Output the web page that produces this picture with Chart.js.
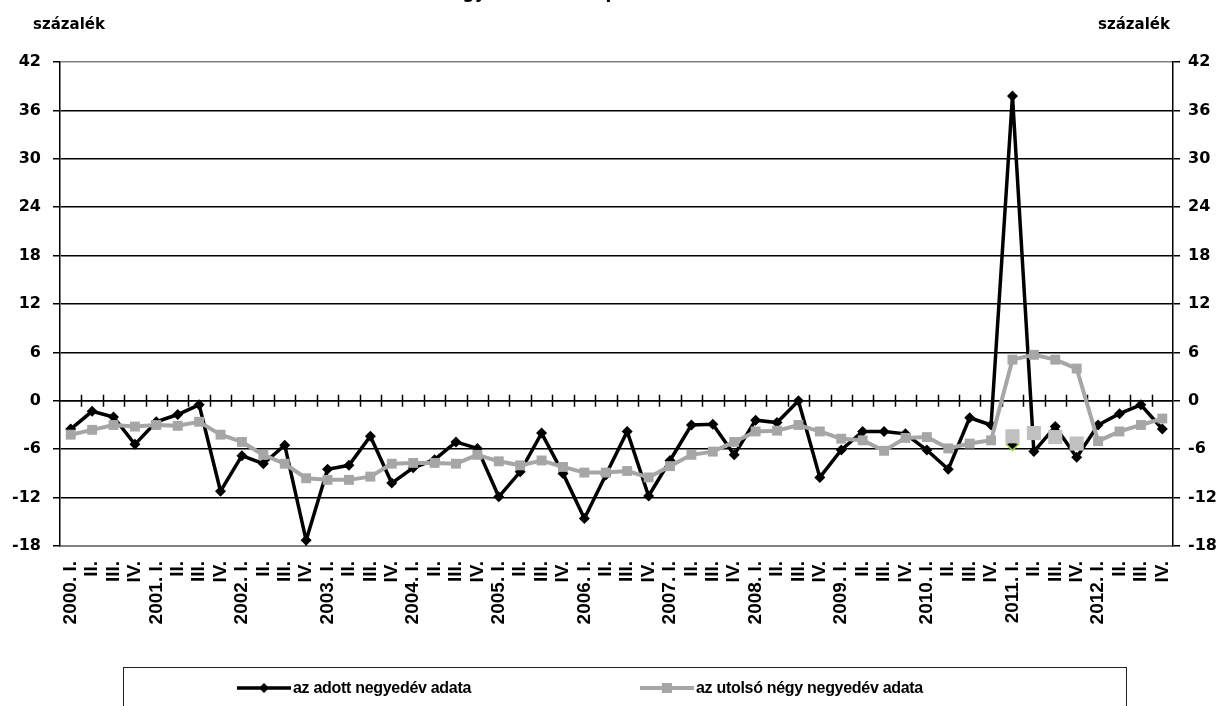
<!DOCTYPE html>
<html>
<head>
<meta charset="utf-8">
<script src="https://cdn.jsdelivr.net/npm/chart.js@4"></script>
<style>
  html, body { margin: 0; padding: 0; background: #fff; }
  #wrap { position: relative; width: 1225px; height: 706px; overflow: hidden; }
  #chartBox { position: absolute; left: 0; top: 0; width: 1225px; height: 706px; }
  .unit { position: absolute; top: 15px; font: bold 15px "DejaVu Sans", sans-serif; color: #000; }
  #title { position: absolute; top: -18px; left: 246px; font: bold 17px "DejaVu Sans", sans-serif; white-space: nowrap; }
  #legend { position: absolute; left: 123px; top: 667px; width: 1004px; height: 60px; border: 1.5px solid #222; box-sizing: border-box; }
  .item { position: absolute; top: 11px; font: bold 16px "Liberation Sans", sans-serif; color: #000; white-space: nowrap; display: flex; align-items: center; letter-spacing: -0.3px; }
  .item svg { margin-right: 2px; }
</style>
</head>
<body>
<div id="wrap">
  <div id="chartBox"><canvas id="chart"></canvas></div>
  <div id="title">(az előző év azonos negyedévéhez képest)</div>
  <div class="unit" style="left:33px">százalék</div>
  <div class="unit" style="left:1098px">százalék</div>
  <div id="legend">
    <div class="item" style="left:113px">
      <svg width="54" height="12"><line x1="0" y1="6" x2="54" y2="6" stroke="#000" stroke-width="3.5"/><polygon points="27,1 32,6 27,11 22,6" fill="#000"/></svg>az adott negyedév adata
    </div>
    <div class="item" style="left:516px">
      <svg width="54" height="12"><line x1="0" y1="6" x2="54" y2="6" stroke="#a6a6a6" stroke-width="4"/><rect x="22" y="1" width="10" height="10" fill="#a6a6a6"/></svg>az utolsó négy negyedév adata
    </div>
  </div>
</div>
<script>
const years = ['2000', '2001', '2002', '2003', '2004', '2005', '2006', '2007', '2008', '2009', '2010', '2011', '2012']
const quarterNames = ['I.', 'II.', 'III.', 'IV.']

// az adott negyedév adata
const quarterly = [
  -3.5, -1.3, -2.0, -5.4,
  -2.6, -1.7, -0.5, -11.2,
  -6.8, -7.8, -5.5, -17.3,
  -8.5, -8.0, -4.4, -10.2,
  -8.3, -7.3, -5.1, -5.9,
  -11.9, -8.8, -4.0, -9.0,
  -14.6, -9.2, -3.8, -11.8,
  -7.4, -3.0, -2.9, -6.7,
  -2.4, -2.7, 0.0, -9.5,
  -6.1, -3.8, -3.8, -4.1,
  -6.1, -8.5, -2.1, -3.0,
  37.8, -6.3, -3.2, -7.0,
  -3.0, -1.6, -0.5, -3.5
]

// az utolsó négy negyedév adata
const lastFour = [
  -4.2, -3.6, -3.0, -3.2,
  -3.0, -3.1, -2.6, -4.2,
  -5.1, -6.7, -7.8, -9.6,
  -9.8, -9.8, -9.4, -7.8,
  -7.7, -7.7, -7.8, -6.7,
  -7.5, -8.0, -7.4, -8.2,
  -8.9, -8.9, -8.7, -9.5,
  -8.1, -6.7, -6.3, -5.1,
  -3.8, -3.7, -3.0, -3.8,
  -4.7, -4.9, -6.2, -4.6,
  -4.5, -5.9, -5.3, -4.9,
  5.1, 5.7, 5.1, 4.0,
  -5.0, -3.8, -3.0, -2.2
]

// leftover markers visible around 2011 in the original
const oldLastFour2011 = [-4.4, -4.0, -4.5, -5.3]
const oldQuarterly2011 = [-5.4]

const yTicks = [-18, -12, -6, 0, 6, 12, 18, 24, 30, 36, 42]

const labels = []
years.forEach((y) => {
  quarterNames.forEach((q, i) => {
    labels.push(i === 0 ? y + '. ' + q : q)
  })
})

const idx2011 = labels.indexOf('2011. I.')
const ghostSquares = labels.map((l, i) => {
  const k = i - idx2011
  return k >= 0 && k < oldLastFour2011.length ? oldLastFour2011[k] : null
})
const ghostDiamond = labels.map((l, i) => {
  const k = i - idx2011
  return k >= 0 && k < oldQuarterly2011.length ? oldQuarterly2011[k] : null
})

// axis at zero with crossing tick marks between quarters
const zeroAxis = {
  id: 'zeroAxis',
  beforeDatasetsDraw(chart) {
    const ctx = chart.ctx
    const x = chart.scales.x
    const y0 = chart.scales.y.getPixelForValue(0)
    ctx.save()
    ctx.strokeStyle = '#000'
    ctx.lineWidth = 1.5
    ctx.beginPath()
    ctx.moveTo(chart.chartArea.left, y0)
    ctx.lineTo(chart.chartArea.right, y0)
    for (let i = 1; i < labels.length; i++) {
      const px = Math.round(x.getPixelForValue(i - 0.5)) + 0.5
      ctx.moveTo(px, y0 - 6)
      ctx.lineTo(px, y0 + 6)
    }
    ctx.stroke()
    ctx.restore()
  }
}

const gridColor = (c) => (c.tick && (c.tick.value === 42 || c.tick.value === -18) ? '#808080' : '#000')

new Chart(document.getElementById('chart'), {
  type: 'line',
  data: {
    labels: labels,
    datasets: [
      {
        label: 'régi jelölők',
        data: ghostSquares,
        showLine: false,
        pointStyle: 'rect',
        pointRadius: 10,
        backgroundColor: '#c0c0c0',
        borderColor: '#c0c0c0',
        borderWidth: 0
      },
      {
        label: 'régi jelölő',
        data: ghostDiamond,
        showLine: false,
        pointStyle: 'rectRot',
        pointRadius: 6,
        backgroundColor: '#000',
        borderColor: '#9acd32',
        borderWidth: 1.5
      },
      {
        label: 'az utolsó négy negyedév adata',
        data: lastFour,
        borderColor: '#a6a6a6',
        backgroundColor: '#a6a6a6',
        borderWidth: 4,
        pointStyle: 'rect',
        pointRadius: 7,
        pointBorderWidth: 0,
        tension: 0
      },
      {
        label: 'az adott negyedév adata',
        data: quarterly,
        borderColor: '#000',
        backgroundColor: '#000',
        borderWidth: 3.5,
        pointStyle: 'rectRot',
        pointRadius: 5.5,
        pointBorderWidth: 0,
        tension: 0
      }
    ]
  },
  options: {
    responsive: true,
    maintainAspectRatio: false,
    animation: false,
    layout: { padding: { top: 62, left: 0, right: 0, bottom: 0 } },
    plugins: {
      legend: { display: false },
      tooltip: { enabled: false }
    },
    scales: {
      x: {
        offset: true,
        grid: { display: false, drawTicks: false },
        border: { display: true, color: '#808080', width: 2 },
        ticks: {
          autoSkip: false,
          minRotation: 90,
          maxRotation: 90,
          padding: 15,
          color: '#000',
          font: { family: 'Liberation Sans', size: 19, weight: 'bold' }
        },
        afterFit(scale) { scale.height = 160 }
      },
      y: {
        position: 'left',
        min: -18,
        max: 42,
        afterBuildTicks(scale) { scale.ticks = yTicks.map((v) => ({ value: v })) },
        grid: { color: gridColor, lineWidth: 1.5, tickLength: 7, tickColor: '#000' },
        border: { display: true, color: '#000', width: 1.5 },
        ticks: {
          padding: 12,
          color: '#000',
          font: { family: 'DejaVu Sans', size: 16, weight: 'bold' }
        },
        afterFit(scale) { scale.width = 60 }
      },
      y2: {
        position: 'right',
        min: -18,
        max: 42,
        afterBuildTicks(scale) { scale.ticks = yTicks.map((v) => ({ value: v })) },
        grid: { drawOnChartArea: false, lineWidth: 1.5, tickLength: 7, color: '#000' },
        border: { display: true, color: '#000', width: 1.5 },
        ticks: {
          padding: 8,
          color: '#000',
          font: { family: 'DejaVu Sans', size: 16, weight: 'bold' }
        },
        afterFit(scale) { scale.width = 52 }
      }
    }
  },
  plugins: [zeroAxis]
})
</script>
</body>
</html>
